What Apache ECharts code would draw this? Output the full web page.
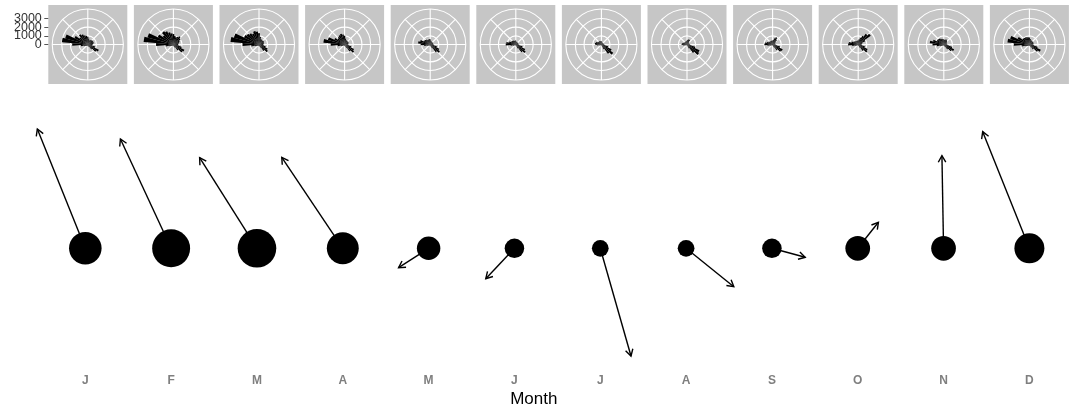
<!DOCTYPE html>
<html><head><meta charset="utf-8">
<script src="https://cdn.jsdelivr.net/npm/echarts@6/dist/echarts.min.js"></script>
<style>html,body{margin:0;padding:0;background:#fff}#c{width:1074px;height:412px}</style>
</head><body><div id="c"></div>
<script>
// ---------- data ----------
const months = ['J','F','M','A','M','J','J','A','S','O','N','D'];
// value shown by the circle size (area-scaled)
const circleValue = [10.6, 14.4, 14.9, 10.2, 5.5, 3.8, 2.8, 2.8, 3.8, 6.1, 6.1, 9.0];
// mean vector of each month: x offset (in month units) and y component
const arrowDx = [-0.559, -0.591, -0.668, -0.711, -0.350, -0.334, 0.358, 0.556, 0.388, 0.241, -0.019, -0.544];
const arrowDy = [0.994, 0.911, 0.755, 0.758, -0.161, -0.253, -0.898, -0.320, -0.075, 0.217, 0.772, 0.972];
// wind rose: direction bins (degrees, clockwise from north)
const directions = [0,10,20,30,40,50,60,70,80,90,100,110,120,130,140,150,160,170,180,190,200,210,220,230,240,250,260,270,280,290,300,310,320,330,340,350];
const roseTicks = [0, 1000, 2000, 3000];
const roseJan = [900,700,500,600,650,700,700,700,650,550,500,900,1400,1200,700,350,250,200,200,150,150,150,200,250,300,450,800,1800,3000,2700,1700,1200,1450,1300,1100,1000];
const roseFeb = [1200,1000,900,1000,1150,1000,800,700,600,550,600,1000,1400,1300,800,400,250,200,200,150,150,150,200,250,350,500,900,2000,3450,3100,2000,1500,1850,1700,1450,1300];
const roseMar = [1300,900,700,600,600,650,650,600,550,500,550,800,1100,1250,900,400,250,200,200,150,150,150,200,250,350,500,900,1900,3300,3000,1900,1750,1600,1400,1600,1500];
const roseApr = [1000,700,550,500,500,500,500,450,450,400,500,800,1200,1340,1000,450,250,200,150,150,150,150,150,200,300,450,800,1600,2450,2000,1300,1000,1100,1200,1270,1150];
const roseMay = [600,450,400,350,350,350,350,350,350,350,450,800,1150,1360,1100,500,250,200,150,150,150,150,150,200,250,400,700,1100,1400,1200,800,790,700,600,600,650];
const roseJun = [450,350,300,300,300,300,300,300,300,300,400,800,1200,1390,1100,500,250,150,150,100,100,100,150,150,200,350,600,1160,1100,800,600,600,550,500,450,450];
const roseJul = [400,300,250,250,250,250,250,250,250,300,400,800,1300,1660,1300,600,250,150,100,100,100,100,100,150,200,300,500,700,750,650,500,450,450,450,400,400];
const roseAug = [450,550,640,600,400,300,250,250,300,350,500,1000,1600,1700,1200,500,250,150,100,100,100,100,100,150,200,300,450,620,600,500,400,350,350,350,400,400];
const roseSep = [450,550,750,910,700,450,350,300,300,350,500,900,1290,1200,800,400,200,150,100,100,100,100,150,150,200,350,600,950,900,700,550,500,450,450,450,450];
const roseOct = [450,600,800,1100,1500,1770,900,500,400,350,450,800,1200,1300,900,400,200,150,100,100,100,100,150,200,250,400,700,1160,1100,800,600,550,500,450,450,450];
const roseNov = [600,550,600,640,550,450,400,350,350,400,550,1000,1310,1100,700,350,200,150,100,100,100,150,150,200,300,450,800,1300,1620,1300,900,900,850,750,700,650];
const roseDec = [800,650,550,500,500,500,500,500,450,450,550,1000,1450,1200,700,350,200,150,150,150,150,150,200,250,350,500,900,1800,2540,2300,1500,1000,950,920,900,850];

// ---------- layout & style ----------
const roses = [roseJan, roseFeb, roseMar, roseApr, roseMay, roseJun, roseJul, roseAug, roseSep, roseOct, roseNov, roseDec];
const FONT = "'Liberation Sans', Arial, Helvetica, sans-serif";
const panelLeft0 = 48.3, panelStep = 85.6, panelSize = 79, panelTop = 5;
const rOuter = 0.45 * panelSize;
const rMax = 4100;
const ringMax = roseTicks[roseTicks.length - 1];

const chart = echarts.init(document.getElementById('c'), null, {renderer: 'canvas'});

const grids = [{left: 42.4, right: 1.7, top: 128.3, bottom: 43.7, containLabel: false, outerBoundsMode: 'none'}];
const xAxes = [{
  gridIndex: 0, type: 'value', min: 0.5, max: 12.5,
  axisLine: {show: false}, axisTick: {show: false}, splitLine: {show: false},
  axisLabel: {
    customValues: months.map((m, i) => i + 1),
    formatter: v => months[Math.round(v) - 1] || '',
    hideOverlap: false,
    color: '#7f7f7f', fontWeight: 'bold', fontSize: 12, margin: 6, fontFamily: FONT
  }
}];
const yAxes = [{gridIndex: 0, type: 'value', min: -1, max: 1, show: false}];
const polars = [], angleAxes = [], radiusAxes = [];
const series = [];

roses.forEach((rose, i) => {
  const left = panelLeft0 + panelStep * i;
  const cx = left + panelSize / 2, cy = panelTop + panelSize / 2;
  grids.push({left: left, top: panelTop, width: panelSize, height: panelSize, show: true,
    backgroundColor: '#c6c6c6', borderWidth: 0, z: 0, containLabel: false, outerBoundsMode: 'none'});
  if (i === 0) {
    xAxes.push({gridIndex: 1, type: 'value', show: false});
    // one axis per tick so that the tightly packed labels are all kept
    roseTicks.forEach(t => {
      yAxes.push({
        gridIndex: 1, type: 'value', position: 'left', offset: 0, min: -rMax / 0.9, max: rMax / 0.9,
        axisLine: {show: false}, splitLine: {show: false},
        axisTick: {show: true, customValues: [t], length: 4, lineStyle: {color: '#555', width: 1}},
        axisLabel: {customValues: [t], formatter: v => String(v), hideOverlap: false,
          fontSize: 12.5, color: '#333', margin: 6.5, fontFamily: FONT}
      });
    });
  }
  // spokes + outer circle
  const a = polars.length;
  polars.push({center: [cx, cy], radius: rOuter});
  angleAxes.push({polarIndex: a, type: 'value', min: 0, max: 360, interval: 45, startAngle: 90, z: 1,
    axisLine: {show: true, lineStyle: {color: '#fff', width: 1.1}},
    axisTick: {show: false}, axisLabel: {show: false},
    splitLine: {show: true, lineStyle: {color: '#fff', width: 1.1}}});
  radiusAxes.push({polarIndex: a, type: 'value', min: 0, max: rMax, show: false});
  // rings
  const b = polars.length;
  polars.push({center: [cx, cy], radius: rOuter * ringMax / rMax});
  angleAxes.push({polarIndex: b, type: 'value', min: 0, max: 360, show: false});
  radiusAxes.push({polarIndex: b, type: 'value', min: 0, max: ringMax, interval: 1000, z: 1,
    axisLine: {show: false}, axisTick: {show: false}, axisLabel: {show: false},
    splitLine: {show: true, lineStyle: {color: '#fff', width: 1.1}}});
  // bars
  const c = polars.length;
  polars.push({center: [cx, cy], radius: rOuter});
  angleAxes.push({polarIndex: c, type: 'category', data: directions, startAngle: 95, show: false, boundaryGap: true});
  radiusAxes.push({polarIndex: c, type: 'value', min: 0, max: rMax, show: false});
  series.push({type: 'bar', coordinateSystem: 'polar', polarIndex: c, data: rose,
    itemStyle: {color: '#000'}, barCategoryGap: '0%', barGap: '0%', silent: true, z: 3});
});

series.push({
  type: 'custom', xAxisIndex: 0, yAxisIndex: 0, z: 2, silent: true,
  data: months.map((m, i) => [i + 1, arrowDx[i], arrowDy[i]]),
  encode: {x: 0, y: 2},
  renderItem: (params, api) => {
    const x0 = api.value(0), dx = api.value(1), dy = api.value(2);
    const p0 = api.coord([x0, 0]);
    const p1 = api.coord([x0 + dx, dy]);
    const ang = Math.atan2(p1[1] - p0[1], p1[0] - p0[0]);
    const L = 7.5, h = Math.PI / 6;
    const q1 = [p1[0] - L * Math.cos(ang - h), p1[1] - L * Math.sin(ang - h)];
    const q2 = [p1[0] - L * Math.cos(ang + h), p1[1] - L * Math.sin(ang + h)];
    return {type: 'group', children: [
      {type: 'line', shape: {x1: p0[0], y1: p0[1], x2: p1[0], y2: p1[1]}, style: {stroke: '#000', lineWidth: 1.4}},
      {type: 'polyline', shape: {points: [q1, p1, q2]}, style: {stroke: '#000', fill: null, lineWidth: 1.4}}
    ]};
  }
});
series.push({
  type: 'scatter', xAxisIndex: 0, yAxisIndex: 0, z: 4, silent: true,
  data: months.map((m, i) => [i + 1, 0]),
  symbol: 'circle',
  symbolSize: (v, p) => 10 * Math.sqrt(circleValue[p.dataIndex]),
  itemStyle: {color: '#000', opacity: 1}
});

chart.setOption({
  animation: false,
  backgroundColor: '#fff',
  textStyle: {fontFamily: FONT},
  grid: grids, xAxis: xAxes, yAxis: yAxes,
  polar: polars, angleAxis: angleAxes, radiusAxis: radiusAxes,
  series: series,
  graphic: [{type: 'text', x: 533.8, y: 399, silent: true,
    style: {text: 'Month', textAlign: 'center', textVerticalAlign: 'middle', fontSize: 17, fill: '#000', fontFamily: FONT}}]
});
</script></body></html>
